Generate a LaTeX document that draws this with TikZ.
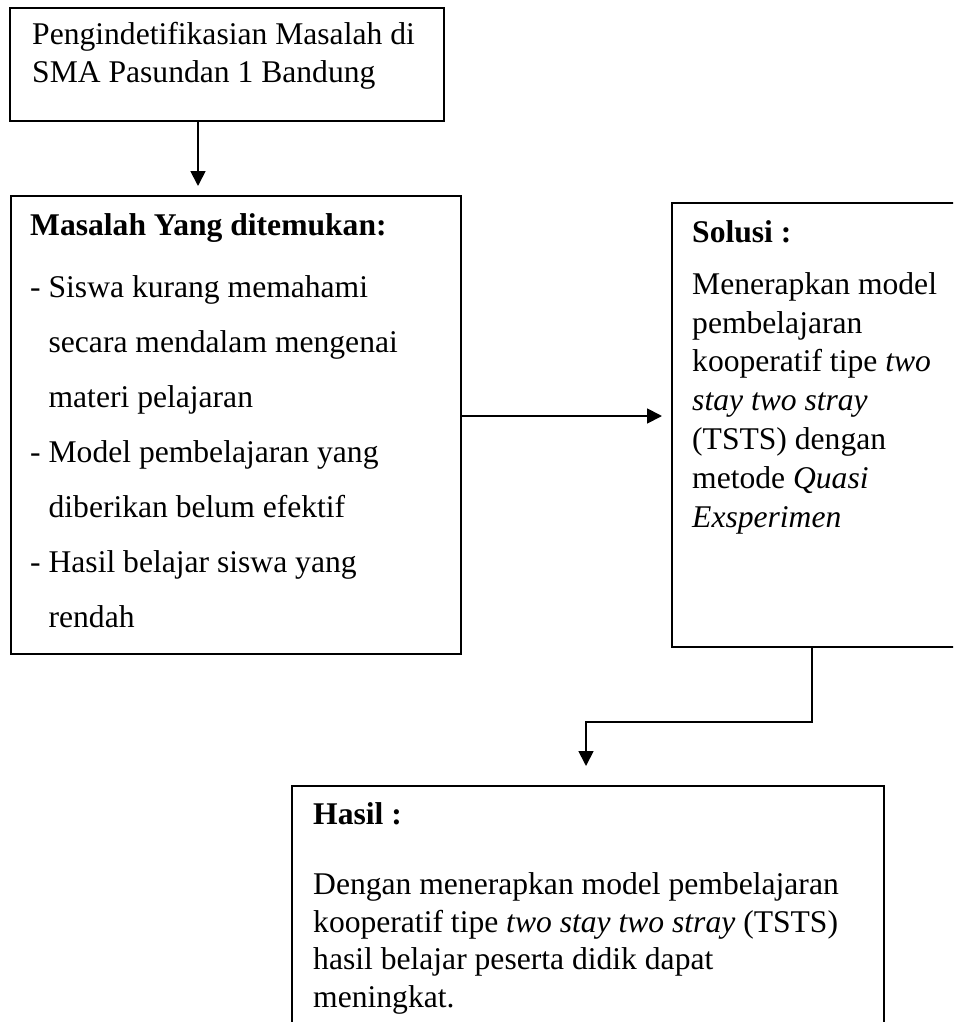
\documentclass[tikz,border=0pt]{standalone}
\usepackage{fontspec}
\setmainfont{Liberation Serif}
\usetikzlibrary{arrows.meta,positioning}
\tikzset{
    flowbox/.style={draw, line width=1.8pt, anchor=north west, inner sep=0pt},
    blurb/.style={anchor=base west, align=left, inner sep=0pt,
        font=\fontsize{31.6}{38}\selectfont},
    flowarrow/.style={-{Triangle[length=15pt,width=15pt]}, line width=1.8pt}
}

\begin{document}
\begin{tikzpicture}[x=1pt, y=-1pt]
        \clip (0,0) rectangle (953,1022);

        \node[flowbox, minimum width=434pt, minimum height=113pt] (ident) at (9,7) {};
        \node[flowbox, minimum width=450pt, minimum height=458pt] (masalah) at (10,195) {};
        \node[flowbox, minimum width=290pt, minimum height=444pt] (solusi) at (671,202) {};
        \node[flowbox, minimum width=592pt, minimum height=260pt] (hasil) at (291,785) {};

        % text nodes sit on the baseline of their last line
        \node[blurb] (identtext) at (32,83)
            {Pengindetifikasian Masalah di\\SMA Pasundan 1 Bandung};
        \node[blurb, font=\fontsize{31.6}{55}\selectfont] (masalahtext) at (30,627)
            {\textbf{Masalah Yang ditemukan:}\\[7pt]
             - Siswa kurang memahami\\
             \hphantom{- }secara mendalam mengenai\\
             \hphantom{- }materi pelajaran\\
             - Model pembelajaran yang\\
             \hphantom{- }diberikan belum efektif\\
             - Hasil belajar siswa yang\\
             \hphantom{- }rendah};
        \node[blurb, font=\fontsize{31.6}{38.8}\selectfont] (solusitext) at (692,527)
            {\textbf{Solusi :}\\[13pt]
             Menerapkan model\\
             pembelajaran\\
             kooperatif tipe \textit{two}\\
             \textit{stay two stray}\\
             (TSTS) dengan\\
             metode \textit{Quasi}\\
             \textit{Exsperimen}};
        \node[blurb, font=\fontsize{31.6}{37.4}\selectfont] (hasiltext) at (313,1007)
            {\textbf{Hasil :}\\[32.6pt]
             Dengan menerapkan model pembelajaran\\
             kooperatif tipe \textit{two stay two stray} (TSTS)\\
             hasil belajar peserta didik dapat\\
             meningkat.};

        \coordinate (tipa) at (198,186);
        \coordinate (tipb) at (662,416);
        \coordinate (elbow) at (812,722);
        \coordinate (tipc) at (586,766);

        \draw[flowarrow] (ident.south -| tipa) -- (tipa);
        \draw[flowarrow] (masalah.east |- tipb) -- (tipb);
        \draw[flowarrow] (solusi.south -| elbow) -- (elbow) -| (tipc);
    \end{tikzpicture}
\end{document}
